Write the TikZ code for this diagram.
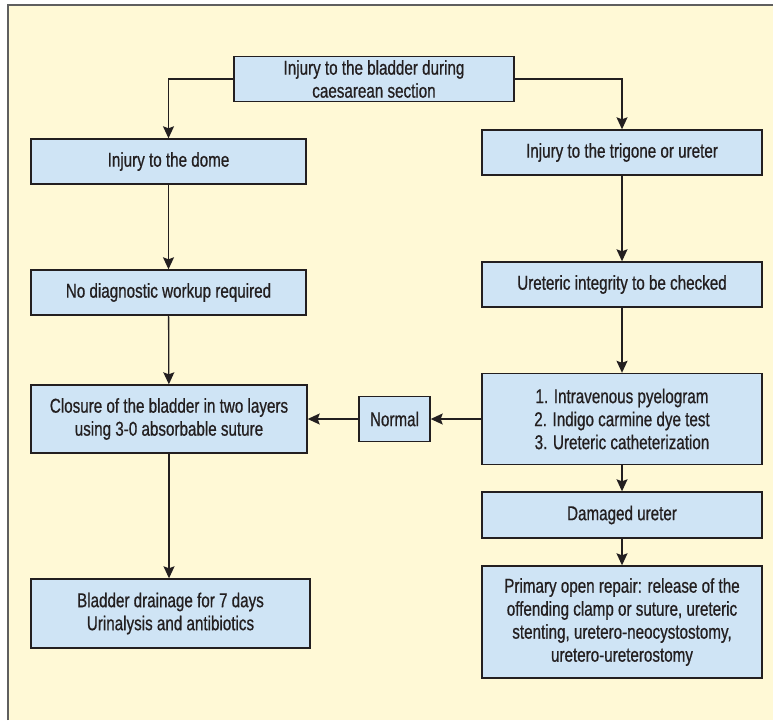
\documentclass[tikz,border=0pt]{standalone}
\usepackage{fontspec}
\setmainfont{Liberation Sans}[FakeStretch=0.76, FakeBold=0.7]
\usetikzlibrary{arrows.meta}
\definecolor{boxblue}{RGB}{207,228,245}
\definecolor{cream}{RGB}{255,249,214}
\definecolor{ink}{RGB}{35,31,32}
\definecolor{framegray}{RGB}{95,95,95}

\begin{document}
\begin{tikzpicture}[x=1pt, y=-1pt, every node/.style={inner sep=0pt}]
  \tikzset{box/.style={rectangle, draw=ink, fill=boxblue, line width=1.4pt, align=center, text=ink, font=\fontsize{20}{23}\selectfont, minimum width=280pt, minimum height=45pt}}
  \tikzset{flow/.style={draw=ink, line width=1.3pt, -{Stealth[length=12pt,width=11pt,inset=2pt]}}}
  % frame
  \useasboundingbox (0,0) rectangle (773,720);
  \fill[cream] (8,5) rectangle (773,720);
  \draw[framegray, line width=1.6pt] (8,720) -- (8,5) -- (773,5);
  % boxes
  \node[box] (inj) at (374.0, 79.0) {Injury to the bladder during\\caesarean section};
  \node[box, minimum width=275pt] (dome) at (168.5, 161.5) {Injury to the dome};
  \node[box] (trig) at (622.0, 152.5) {Injury to the trigone or ureter};
  \node[box, minimum width=275pt] (nodiag) at (168.5, 292.5) {No diagnostic workup required};
  \node[box] (integ) at (622.0, 284.5) {Ureteric integrity to be checked};
  \node[box, minimum width=276pt, minimum height=68pt] (closure) at (169.0, 419.0) {Closure of the bladder in two layers\\using 3-0 absorbable suture};
  \node[box, minimum width=71pt] (normal) at (394.5, 419.0) {Normal};
  \node[box, minimum height=91pt] (tests) at (622.0, 419.0) {1. Intravenous pyelogram\\2. Indigo carmine dye test\\3. Ureteric catheterization};
  \node[box, minimum height=46pt] (damaged) at (622.0, 515.0) {Damaged ureter};
  \node[box, minimum height=112pt] (repair) at (622.0, 622.0) {Primary open repair: release of the\\offending clamp or suture, ureteric\\stenting, uretero-neocystostomy,\\uretero-ureterostomy};
  \node[box, minimum width=279pt, minimum height=69pt] (drain) at (170.5, 613.5) {Bladder drainage for 7 days\\Urinalysis and antibiotics};
  % arrows
  \draw[flow] (inj.west) -| (dome.north);
  \draw[flow] (inj.east) -| (trig.north);
  \draw[flow] (dome) -- (nodiag);
  \draw[flow] (nodiag) -- (closure);
  \draw[flow] (closure.south) -- (closure.south |- drain.north);
  \draw[flow] (trig) -- (integ);
  \draw[flow] (integ) -- (tests);
  \draw[flow] (tests) -- (normal);
  \draw[flow] (normal) -- (closure);
  \draw[flow] (tests) -- (damaged);
  \draw[flow] (damaged) -- (repair);
\end{tikzpicture}
\end{document}
